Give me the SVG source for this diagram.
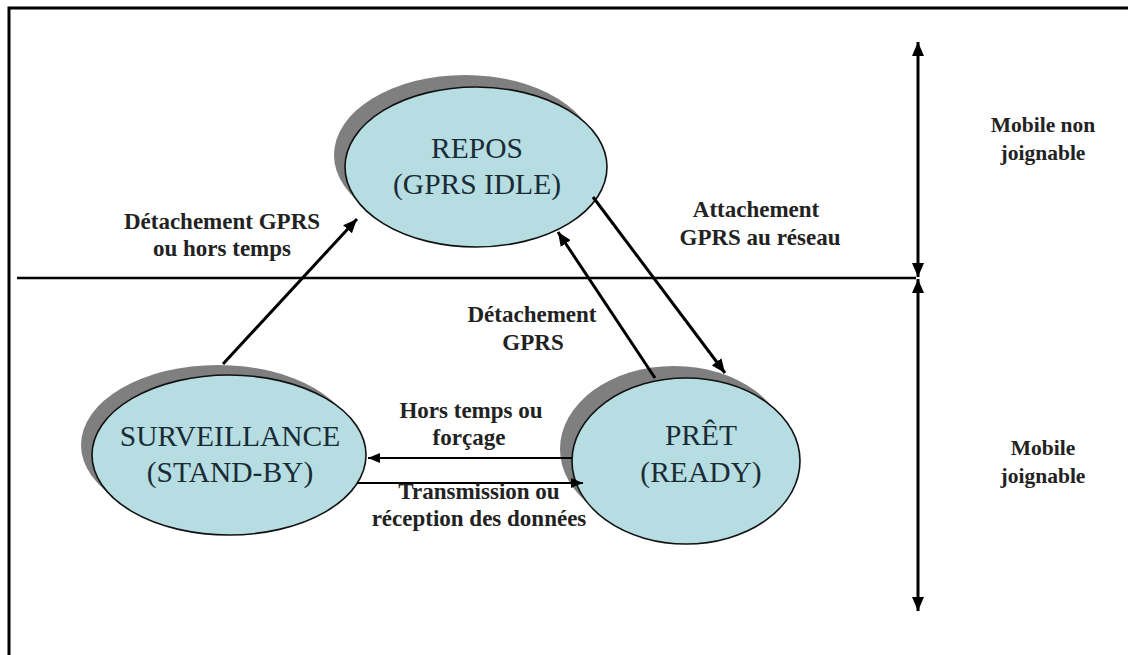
<svg xmlns="http://www.w3.org/2000/svg" width="1128" height="655" viewBox="0 0 1128 655">
<defs>
<marker id="ah" markerUnits="userSpaceOnUse" markerWidth="16" markerHeight="12" refX="14" refY="6" orient="auto">
<path d="M0,0 L14,6 L0,12 Z" fill="#000"/>
</marker>
<marker id="ahs" markerUnits="userSpaceOnUse" markerWidth="14" markerHeight="10" refX="12" refY="5" orient="auto">
<path d="M0,0 L12,5 L0,10 Z" fill="#000"/>
</marker>
<style>
.shadow{fill:#7f7f7f}
.node{fill:#b6dde1;stroke:#111;stroke-width:1.6}
.ntext{font-family:"Liberation Serif","Times New Roman",serif;font-size:29.5px;fill:#1b2b36;text-anchor:middle}
.label{font-family:"Liberation Serif","Times New Roman",serif;font-size:23px;font-weight:bold;fill:#222;text-anchor:middle}
.side{font-size:21.5px}
.thick{stroke:#000;stroke-width:3;fill:none}
.thin{stroke:#000;stroke-width:2;fill:none}
</style>
</defs>
<rect x="0" y="0" width="1128" height="655" fill="#fff"/>
<rect x="9" y="8" width="1130" height="660" fill="none" stroke="#000" stroke-width="3"/>
<line x1="17" y1="278" x2="916" y2="278" stroke="#000" stroke-width="2.5"/>

<g id="repos">
<ellipse class="shadow" cx="465" cy="155" rx="131" ry="80"/>
<ellipse class="node" cx="476" cy="167" rx="131" ry="80"/>
<text class="ntext" x="477" y="158">REPOS</text>
<text class="ntext" x="477" y="194">(GPRS IDLE)</text>
</g>
<g id="surveillance">
<ellipse class="shadow" cx="218" cy="445" rx="137" ry="80"/>
<ellipse class="node" cx="229" cy="455" rx="137" ry="80"/>
<text class="ntext" x="230" y="446">SURVEILLANCE</text>
<text class="ntext" x="230" y="482">(STAND-BY)</text>
</g>
<g id="pret">
<ellipse class="shadow" cx="674" cy="449" rx="114" ry="83"/>
<ellipse class="node" cx="686" cy="461" rx="114" ry="83"/>
<text class="ntext" x="701" y="445">PRÊT</text>
<text class="ntext" x="701" y="482">(READY)</text>
</g>

<g id="connectors">
<line class="thick" x1="223" y1="364" x2="357" y2="219" marker-end="url(#ah)"/>
<line class="thick" x1="655" y1="378" x2="558" y2="232" marker-end="url(#ah)"/>
<line class="thick" x1="593" y1="197" x2="725" y2="373" marker-end="url(#ah)"/>
<line class="thin" x1="572" y1="458" x2="368" y2="458" marker-end="url(#ahs)"/>
<line class="thin" x1="357" y1="483" x2="583" y2="483" marker-end="url(#ahs)"/>
<line class="thick" x1="918" y1="262" x2="918" y2="42" marker-end="url(#ah)"/>
<line class="thick" x1="918" y1="262" x2="918" y2="277" marker-end="url(#ah)"/>
<line class="thick" x1="918" y1="295" x2="918" y2="279" marker-end="url(#ah)"/>
<line class="thick" x1="918" y1="295" x2="918" y2="611" marker-end="url(#ah)"/>
</g>

<g id="labels">
<text class="label" x="222" y="229">Détachement GPRS</text>
<text class="label" x="222" y="256">ou hors temps</text>
<text class="label" x="756" y="217">Attachement</text>
<text class="label" x="760" y="245">GPRS au réseau</text>
<text class="label" x="532" y="322">Détachement</text>
<text class="label" x="533" y="350">GPRS</text>
<text class="label" x="471" y="418">Hors temps ou</text>
<text class="label" x="469" y="445">forçage</text>
<text class="label" x="479" y="499">Transmission ou</text>
<text class="label" x="479" y="526">réception des données</text>
<text class="label side" x="1043" y="132">Mobile non</text>
<text class="label side" x="1043" y="160">joignable</text>
<text class="label side" x="1043" y="455">Mobile</text>
<text class="label side" x="1043" y="483">joignable</text>
</g>
</svg>
